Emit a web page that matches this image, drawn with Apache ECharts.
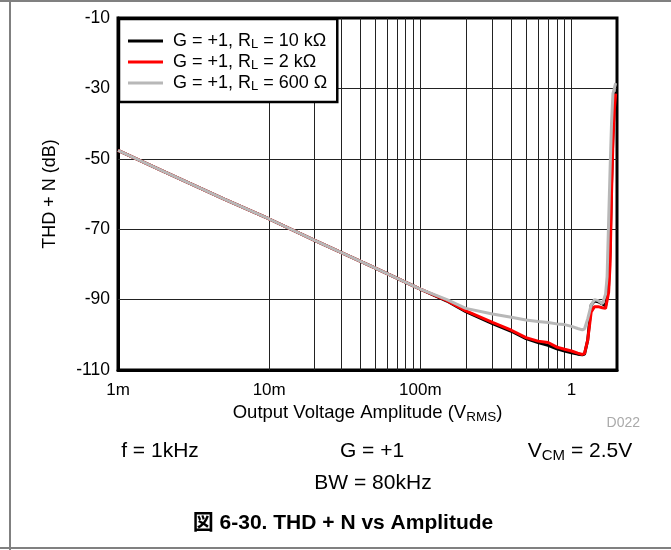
<!DOCTYPE html>
<html>
<head>
<meta charset="utf-8">
<script src="https://cdn.jsdelivr.net/npm/echarts@6/dist/echarts.min.js"></script>
<style>
html, body { margin: 0; padding: 0; background: #fff; }
#main { width: 671px; height: 550px; }
</style>
</head>
<body>
<div id="main"></div>
<script>
// output amplitude (V rms)
var amplitude = [0.001, 0.002, 0.005, 0.01, 0.02, 0.05, 0.1, 0.15, 0.2, 0.3, 0.4, 0.5, 0.6, 0.7, 0.8, 0.9,
	1.0, 1.1, 1.18, 1.22, 1.28, 1.35, 1.42, 1.5, 1.6, 1.68, 1.72, 1.76, 1.8, 1.84, 1.88, 1.92, 1.96];
// THD+N (dB)
var thd10k = [-47.6, -53.6, -61.4, -67.1, -73.2, -81.0, -87.0, -90.4, -93.4, -96.8, -99.0, -101.1, -102.2, -103.0, -104.0, -104.6,
	-105.1, -105.5, -105.7, -105.5, -101.5, -91.5, -90.4, -90.6, -91.2, -91.8, -91.5, -86, -76, -57, -43, -35, -31];
var thd2k = [-47.6, -53.6, -61.4, -67.1, -73.2, -81.0, -87.0, -90.3, -93.2, -96.5, -98.7, -100.8, -101.8, -102.2, -103.5, -104.1,
	-104.6, -105.2, -105.6, -105.3, -101.5, -93.5, -92.0, -92.0, -92.3, -92.5, -92.4, -88, -80, -60, -45, -36, -31.5];
var thd600 = [-47.6, -53.6, -61.4, -67.1, -73.2, -81.0, -87.0, -90.0, -92.5, -94.1, -95.0, -95.8, -96.2, -96.5, -96.9, -97.1,
	-97.6, -98.2, -98.6, -98.3, -95.5, -91.5, -90.0, -90.3, -91.2, -88.5, -83.5, -68, -53, -40, -31.5, -30, -28.5];

var seriesNames = ['G = +1, R_L = 10 kΩ', 'G = +1, R_L = 2 kΩ', 'G = +1, R_L = 600 Ω'];
var xTickLabels = { '-3': '1m', '-2': '10m', '-1': '100m', '0': '1' };
var gridX = [0.002, 0.003, 0.004, 0.005, 0.006, 0.007, 0.008, 0.009, 0.01,
	0.02, 0.03, 0.04, 0.05, 0.06, 0.07, 0.08, 0.09, 0.1,
	0.2, 0.3, 0.4, 0.5, 0.6, 0.7, 0.8, 0.9, 1];
var gridY = [-30, -50, -70, -90];

var FONT = "'Liberation Sans', Arial, sans-serif";

function pairs(ys) {
	return amplitude.map(function (x, i) { return [x, ys[i]]; });
}

var chart = echarts.init(document.getElementById('main'));

var option = {
	animation: false,
	backgroundColor: '#fff',
	textStyle: { fontFamily: FONT },
	grid: {
		left: 118, right: 54, top: 18, bottom: 180,
		show: true, borderColor: '#000', borderWidth: 3
	},
	legend: {
		data: seriesNames,
		orient: 'vertical',
		left: 119, top: 19,
		z: 10,
		backgroundColor: '#fff',
		borderColor: '#000',
		borderWidth: 2.5,
		borderRadius: 0,
		padding: [12, 10, 9, 9],
		itemGap: 1,
		itemWidth: 35,
		itemHeight: 3,
		icon: 'rect',
		formatter: function (name) {
			var p = name.split('R_L');
			return '{h|' + p[0] + 'R}{s|L}{a|' + p[1] + '}';
		},
		textStyle: {
			color: '#000',
			rich: {
				h: { fontSize: 18, lineHeight: 21, fontFamily: FONT, padding: [0, 0, 0, 5] },
				a: { fontSize: 18, lineHeight: 21, fontFamily: FONT },
				s: { fontSize: 13, lineHeight: 21, fontFamily: FONT, padding: [7, 0, 0, 0] }
			}
		}
	},
	xAxis: {
		type: 'log',
		logBase: 10,
		min: 0.001,
		max: 2,
		name: '{a|Output Voltage Amplitude (V}{s|RMS}{a|)}',
		nameLocation: 'middle',
		nameGap: 32,
		nameTextStyle: {
			color: '#000',
			rich: {
				a: { fontSize: 18.5, fontFamily: FONT, color: '#000' },
				s: { fontSize: 13.5, fontFamily: FONT, color: '#000', padding: [7, 0, 0, 0] }
			}
		},
		axisLine: { onZero: false, lineStyle: { color: '#000', width: 3 } },
		axisTick: { show: false },
		splitLine: { show: false },
		axisLabel: {
			color: '#000', fontSize: 17, margin: 12, showMaxLabel: false,
			formatter: function (v) {
				var e = Math.round(Math.log10(v) * 1000) / 1000;
				return xTickLabels[String(e)] || '';
			}
		}
	},
	yAxis: {
		type: 'value',
		min: -110,
		max: -10,
		interval: 10,
		name: 'THD + N (dB)',
		nameLocation: 'middle',
		nameGap: 59,
		nameTextStyle: { color: '#000', fontSize: 18, fontFamily: FONT },
		axisLine: { show: true, lineStyle: { color: '#000', width: 3 } },
		axisTick: { show: false },
		splitLine: { show: false },
		axisLabel: {
			color: '#000', fontSize: 17.5, margin: 8,
			formatter: function (v) {
				return Math.abs(v + 10) % 20 === 0 ? String(v) : '';
			}
		}
	},
	graphic: [
		{ type: 'line', silent: true, shape: { x1: 0, y1: 1, x2: 671, y2: 1 }, style: { stroke: '#808080', lineWidth: 2 } },
		{ type: 'line', silent: true, shape: { x1: 10, y1: 0, x2: 10, y2: 550 }, style: { stroke: '#808080', lineWidth: 2 } },
		{ type: 'line', silent: true, shape: { x1: 0, y1: 548, x2: 671, y2: 548 }, style: { stroke: '#808080', lineWidth: 2 } },
		{ type: 'text', x: 640, y: 423, style: { text: 'D022', fill: '#aaa', font: '14px ' + FONT, textAlign: 'right', textVerticalAlign: 'middle' } },
		{ type: 'text', x: 160, y: 451, style: { text: 'f = 1kHz', fill: '#000', font: '21px ' + FONT, textAlign: 'center', textVerticalAlign: 'middle' } },
		{ type: 'text', x: 372, y: 451, style: { text: 'G = +1', fill: '#000', font: '21px ' + FONT, textAlign: 'center', textVerticalAlign: 'middle' } },
		{
			type: 'text', x: 580, y: 451,
			style: {
				text: '{a|V}{s|CM}{a| = 2.5V}', fill: '#000', align: 'center', verticalAlign: 'middle',
				rich: {
					a: { fontSize: 21, fontFamily: FONT, lineHeight: 24 },
					s: { fontSize: 15, fontFamily: FONT, lineHeight: 24, padding: [9, 0, 0, 0] }
				}
			}
		},
		{ type: 'text', x: 373, y: 483, style: { text: 'BW = 80kHz', fill: '#000', font: '21px ' + FONT, textAlign: 'center', textVerticalAlign: 'middle' } },
		{ type: 'text', x: 343, y: 523, style: { text: '図 6-30. THD + N vs Amplitude', fill: '#000', font: 'bold 21px ' + FONT + ", 'Noto Sans CJK JP'", textAlign: 'center', textVerticalAlign: 'middle' } }
	],
	series: [
		{
			name: 'grid',
			type: 'line',
			data: [],
			z: 1,
			silent: true,
			markLine: {
				silent: true,
				z: 1,
				symbol: ['none', 'none'],
				label: { show: false },
				lineStyle: { color: '#222', width: 1, type: 'solid' },
				data: gridX.map(function (v) { return { xAxis: v }; })
					.concat(gridY.map(function (v) { return { yAxis: v }; }))
			}
		},
		{
			name: seriesNames[0], type: 'line', showSymbol: false, symbol: 'none',
			lineStyle: { color: '#000', width: 3 }, itemStyle: { color: '#000' },
			data: pairs(thd10k)
		},
		{
			name: seriesNames[1], type: 'line', showSymbol: false, symbol: 'none',
			lineStyle: { color: '#ff0000', width: 3 }, itemStyle: { color: '#ff0000' },
			data: pairs(thd2k)
		},
		{
			name: seriesNames[2], type: 'line', showSymbol: false, symbol: 'none',
			lineStyle: { color: '#b8b8b8', width: 3 }, itemStyle: { color: '#b8b8b8' },
			data: pairs(thd600)
		}
	]
};

chart.setOption(option);
</script>
</body>
</html>
